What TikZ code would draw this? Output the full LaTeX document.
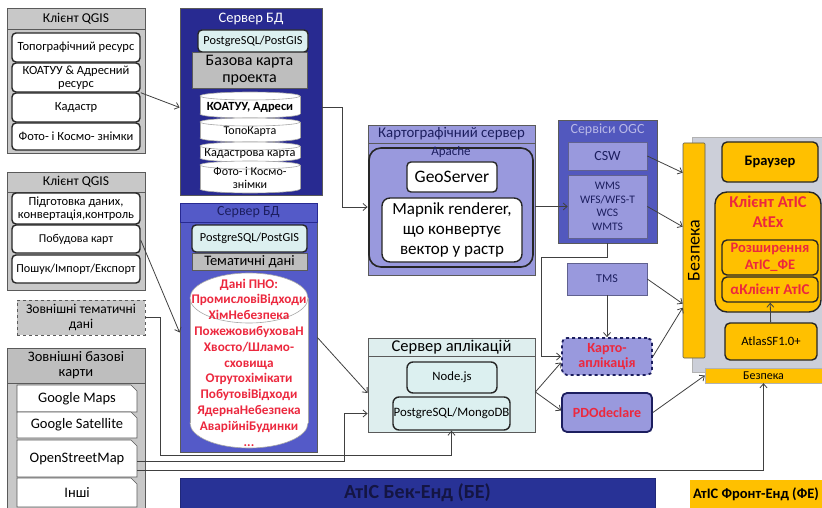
\documentclass[tikz,border=0pt]{standalone}
\usepackage{fontspec}
\setmainfont{Carlito}
\usepackage{tikz}
\usetikzlibrary{positioning,arrows.meta,shapes.geometric,shapes.misc,calc}
\definecolor{edgegray}{RGB}{90,90,90}
\definecolor{qgisgray}{RGB}{200,200,200}
\definecolor{bargray}{RGB}{190,190,190}
\definecolor{dbdark}{RGB}{40,42,145}
\definecolor{dbmid}{RGB}{84,90,200}
\definecolor{lavender}{RGB}{153,153,221}
\definecolor{ogcblue}{RGB}{82,88,190}
\definecolor{appcyan}{RGB}{222,238,238}
\definecolor{pgcyan}{RGB}{220,240,240}
\definecolor{navytext}{RGB}{28,30,95}
\definecolor{alertred}{RGB}{236,40,62}
\definecolor{atisyellow}{RGB}{255,192,0}
\definecolor{panelgray}{RGB}{204,207,217}
\definecolor{bedark}{RGB}{40,50,150}
\newcommand{\fsz}[2]{\fontsize{#1}{#2}\selectfont}
% #1 name, #2 centre x, #3 top y, #4 bottom y, #5 half width, #6 cap radius
\newcommand{\diskshape}[6]{%
  \path[disk] (#2,#4-#6) ellipse [x radius=#5pt, y radius=#6pt];
  \fill[white] (#2-#5,#3+#6) rectangle (#2+#5,#4-#6);
  \draw[diskedge] (#2-#5,#3+#6) -- (#2-#5,#4-#6) (#2+#5,#3+#6) -- (#2+#5,#4-#6);
  \path[disk] (#2,#3+#6) ellipse [x radius=#5pt, y radius=#6pt];
  \node[inner sep=0pt, corners={#2-#5}/#3/{#2+#5}/#4] (#1) {};
}
\tikzset{
  corners/.style args={#1/#2/#3/#4}{at={({((#1)+(#3))/2},{((#2)+(#4))/2})}, minimum width={((#3)-(#1))*1pt}, minimum height={((#4)-(#2))*1pt}},
  cont/.style={draw=edgegray, line width=0.8pt, inner sep=0pt},
  head/.style={draw=edgegray, line width=0.6pt, inner sep=0pt, align=center, font=\fsz{13.5}{14}},
  item/.style={rounded corners=4pt, draw=black!85, line width=1.4pt, fill=white, inner sep=0pt, align=center, font=\fsz{12.5}{13}},
  tab/.style={chamfered rectangle, chamfered rectangle corners=north east, chamfered rectangle xsep=3pt, chamfered rectangle ysep=3pt, draw=edgegray, line width=0.6pt, fill=white, inner sep=0pt, font=\fsz{14.5}{15}},
  pgbox/.style={rounded corners=4pt, draw=black!85, line width=1.4pt, fill=pgcyan, inner sep=0pt, align=center, font=\fsz{12.3}{13}},
  graybar/.style={draw=edgegray, line width=0.6pt, fill=bargray, inner sep=0pt, align=center},
  disk/.style={fill=white, draw=gray!70, line width=0.6pt},
  diskedge/.style={draw=gray!70, line width=0.6pt},
  svc/.style={draw=navytext!70, line width=0.6pt, fill=lavender, inner sep=0pt, align=center, text=navytext},
  app/.style={rounded corners=5pt, draw=navytext, line width=1.8pt, fill=lavender, inner sep=0pt, align=center, text=alertred, font=\bfseries\fsz{14}{15}},
  ybox/.style={rounded corners=5pt, draw=black!85, line width=1.4pt, fill=atisyellow, inner sep=0pt, align=center},
  arr/.style={-{Straight Barb[length=4pt,width=7pt]}, line width=0.8pt, draw=black!75},
}
\begin{document}
\begin{tikzpicture}[x=1pt,y=-1pt]
  \useasboundingbox (0,0) rectangle (822,508);
  % QGIS clients
  \node[cont, fill=qgisgray, corners=7/8/145/153] (qgisA) {};
  \node[head, fill=qgisgray, corners=7/8/145/29] (qgisAHead) {Клієнт QGIS};
  \node[item, corners=12/33/140/62] (topo) {Топографічний ресурс};
  \node[item, corners=12/63/140/92] (koatuu) {КОАТУУ \& Адресний\\ресурс};
  \node[item, corners=12/93/140/122] (kadastr) {Кадастр};
  \node[item, corners=12/123/140/150] (foto) {Фото- і Космо- знімки};

  \node[cont, fill=qgisgray, corners=7/172/145/290] (qgisB) {};
  \node[head, fill=qgisgray, corners=7/172/145/192] (qgisBHead) {Клієнт QGIS};
  \node[item, corners=12/193/140/224] (prep) {Підготовка даних,\\конвертація,контроль};
  \node[item, font=\fsz{12}{13}, corners=12/225/140/253] (build) {Побудова карт};
  \node[item, font=\fsz{12.2}{13}, corners=12/255/140/283] (search) {Пошук/Імпорт/Експорт};

  \node[cont, dashed, fill=qgisgray, align=center, font=\fsz{13.5}{15}, corners=17/300/145/335] (extThem) {Зовнішні тематичні\\дані};

  % external base maps
  \node[cont, fill=qgisgray, corners=7/348/145/508] (extBase) {};
  \node[head, fill=bargray, font=\fsz{14.5}{15}, corners=7/348/145/383] (extBaseHead) {Зовнішні базові\\карти};
  \node[tab, corners=17/385/137/412] (gmaps) {Google Maps};
  \node[tab, corners=17/412/137/438] (gsat) {Google Satellite};
  \node[tab, corners=17/440/137/477] (osm) {OpenStreetMap};
  \node[tab, corners=17/478/137/507] (other) {Інші};

  % DB servers
  \node[cont, fill=dbdark, corners=180/8/322/195] (dbA) {};
  \node[inner sep=0pt, text=white, font=\fsz{14.5}{15}, corners=180/8/322/29] (dbAHead) {Сервер БД};
  \node[pgbox, corners=198/30/308/52] (pgA) {PostgreSQL/PostGIS};
  \node[graybar, font=\fsz{16}{17}, corners=192/52/307/88] (baseMap) {Базова карта\\проекта};
  \diskshape{cylA}{250}{92}{118}{50}{4}
  \diskshape{cylB}{250}{118}{142}{50}{4}
  \diskshape{cylC}{250}{142}{162}{50}{4}
  \diskshape{cylD}{250}{161}{193}{50}{4}
  \node[inner sep=0pt, font=\bfseries\fsz{12.5}{13}] (cylALbl) at ([yshift=-2pt]cylA.center) {КОАТУУ, Адреси};
  \node[inner sep=0pt, font=\fsz{12}{13}] (cylBLbl) at ([yshift=-2pt]cylB.center) {ТопоКарта};
  \node[inner sep=0pt, font=\fsz{12.3}{13}] (cylCLbl) at ([yshift=-2pt]cylC.center) {Кадастрова карта};
  \node[inner sep=0pt, align=center, font=\fsz{12}{12.5}] (cylDLbl) at ([yshift=-1pt]cylD.center) {Фото- і Космо-\\знімки};

  \node[cont, fill=dbmid, corners=180/203/317/452] (dbB) {};
  \node[head, draw=dbdark, fill=dbmid, text=navytext, font=\fsz{14}{15}, corners=180/203/317/222] (dbBHead) {Сервер БД};
  \node[pgbox, corners=192/225/307/252] (pgB) {PostgreSQL/PostGIS};
  \node[graybar, font=\fsz{14.5}{15}, corners=192/253/307/270] (themData) {Тематичні дані};
  \diskshape{pnoDisk}{249}{273}{448}{59}{25}
  \node[inner sep=0pt, align=center, text=alertred, font=\bfseries\fsz{13.2}{15.8}] (pnoTxt) at ([yshift=-2pt]pnoDisk.center)
    {Дані ПНО:\\ПромисловіВідходи\\ХімНебезпека\\ПожежовибуховаН\\Хвосто/Шламо-\\сховища\\Отрутохімікати\\ПобутовіВідходи\\ЯдернаНебезпека\\АварійніБудинки\\...};

  % map server
  \node[cont, fill=lavender, corners=368/125/535/275] (cart) {};
  \node[head, fill=lavender, text=navytext, font=\fsz{14.8}{15}, corners=368/125/535/143] (cartHead) {Картографічний сервер};
  \node[rounded corners=12pt, draw=black!85, line width=1.6pt, inner sep=0pt, corners=369/148/533/267] (apache) {};
  \node[inner sep=0pt, text=navytext, font=\fsz{13}{14}] (apacheLbl) at ([yshift=-5pt]apache.north) {Apache};
  \node[item, font=\fsz{17.5}{18}, corners=407/162/497/192] (geoserver) {GeoServer};
  \node[item, rounded corners=8pt, font=\fsz{17}{20}, corners=382/198/522/262] (mapnik) {Mapnik renderer,\\що конвертує\\вектор у растр};

  % OGC services
  \node[cont, fill=ogcblue, corners=558/120/657/243] (ogc) {};
  \node[inner sep=0pt, text=lavender!70!white, font=\fsz{14}{15}, corners=558/120/657/139] (ogcHead) {Сервіси OGC};
  \node[svc, font=\fsz{14}{15}, corners=568/142/647/170] (csw) {CSW};
  \node[svc, font=\fsz{11.5}{13.5}, corners=568/175/647/238] (wms) {WMS\\WFS/WFS-T\\WCS\\WMTS};
  \node[svc, font=\fsz{12}{13}, corners=567/263/647/295] (tms) {TMS};

  \node[app, dashed, corners=562/338/652/375] (kartoApp) {Карто-\\аплікація};
  \node[app, corners=562/393/652/432] (pdo) {PDOdeclare};

  % application server
  \node[cont, fill=appcyan, corners=368/338/535/432] (appServer) {};
  \node[head, fill=appcyan, font=\fsz{16.5}{17}, corners=368/338/535/356] (appHead) {Сервер аплікацій};
  \node[pgbox, rounded corners=6pt, font=\fsz{12.7}{13}, corners=407/362/497/393] (nodejs) {Node.js};
  \node[pgbox, rounded corners=6pt, font=\fsz{12.8}{13}, corners=393/397/510/430] (pgMongo) {PostgreSQL/MongoDB};

  % front end
  \node[fill=panelgray, draw=gray!60, inner sep=0pt, corners=692/137/822/372] (fePanel) {};
  \node[ybox, rounded corners=1pt, line width=0.6pt, draw=edgegray, corners=683/143/705/358] (secV) {};
  \node[rotate=90, inner sep=0pt, font=\fsz{18}{19}] (secVTxt) at (secV.center) {Безпека};
  \node[ybox, font=\bfseries\fsz{14.5}{15}, corners=722/142/818/182] (browser) {Браузер};
  \node[ybox, rounded corners=12pt, corners=715/192/821/312] (atisClient) {};
  \node[anchor=north, inner sep=0pt, align=center, text=alertred, font=\bfseries\fsz{16.5}{20}] (atisTitle) at ([yshift=-4pt]atisClient.north) {Клієнт АтІС\\AtEx};
  \node[ybox, text=alertred, font=\bfseries\fsz{14.5}{16.5}, corners=722/240/818/275] (atisExt) {Розширення\\АтІС\_ФЕ};
  \node[ybox, text=alertred, font=\bfseries\fsz{15}{16}, corners=722/277/818/302] (alphaClient) {αКлієнт АтІС};
  \node[ybox, font=\fsz{12.7}{13}, corners=725/323/817/360] (atlas) {AtlasSF1.0+};
  \node[fill=atisyellow, draw=gray!60, inner sep=0pt, font=\fsz{12}{12}, corners=705/368/822/383] (secH) {Безпека};

  % bottom bars
  \node[fill=bedark, draw=bedark!80!black, inner sep=0pt, text=navytext!70!black, font=\bfseries\fsz{20}{21}, corners=180/478/655/508] (backEnd) {АтІС Бек-Енд (БЕ)};
  \node[fill=atisyellow, inner sep=0pt, corners=690/480/822/508] (frontEnd) {};
  \node[anchor=west, inner sep=0pt, font=\bfseries\fsz{14.5}{15}] (frontEndLbl) at ([xshift=3pt]frontEnd.west) {АтІС Фронт-Енд (ФЕ)};

  % connectors
  \draw[arr] (koatuu.south east) -- ([yshift=-6pt]dbA.west);
  \draw[arr] ([yshift=-1pt]build.east) -- ([yshift=-5pt]dbB.west);
  \draw[arr] (extThem.east) -- ++(15,0) |- ([yshift=-25pt]pgMongo.south) -- (pgMongo.south);
  \draw[arr] ([yshift=-3pt]osm.east) -| ($(appServer.west |- pgMongo)+(-23,0)$) -- (appServer.west |- pgMongo);
  \draw[arr] ([yshift=-12pt]osm.east) -| (secH.south);
  \draw[arr] ([yshift=-6pt]dbA.east) -| ($(cart.west)+(-25,7)$) -- ([yshift=-7pt]cart.west);
  \draw[arr] (cart.east |- wms.west) -- (wms.west);
  \draw[arr] (ogc.south) -- ++(0,14) -| ($(kartoApp.west)+(-20,0)$) -- (kartoApp.west);
  \draw[arr] (tms) -- (kartoApp);
  \draw[arr] ([yshift=-7pt]appServer.east) -- ([yshift=-6pt]kartoApp.west);
  \draw[arr] ([yshift=-7pt]appServer.east) -- ([yshift=2pt]pdo.west);
  \draw[arr] ([yshift=-10pt]dbB.east) -- ([yshift=-8pt]appServer.west);
  \draw[arr] (csw.east) -- ($(secV.north west)+(0,30)$);
  \draw[arr] (wms.east) -- ($(secV.north west)+(0,84)$);
  \draw[arr] (tms.east) -- ($(secV.north west)+(0,161)$);
  \draw[arr] (kartoApp.east) -- ($(secV.north west)+(0,165)$);
  \draw[arr] (pdo.east) -- (secH.west);
  \draw[arr] (atlas) -- (alphaClient);
\end{tikzpicture}
\end{document}
